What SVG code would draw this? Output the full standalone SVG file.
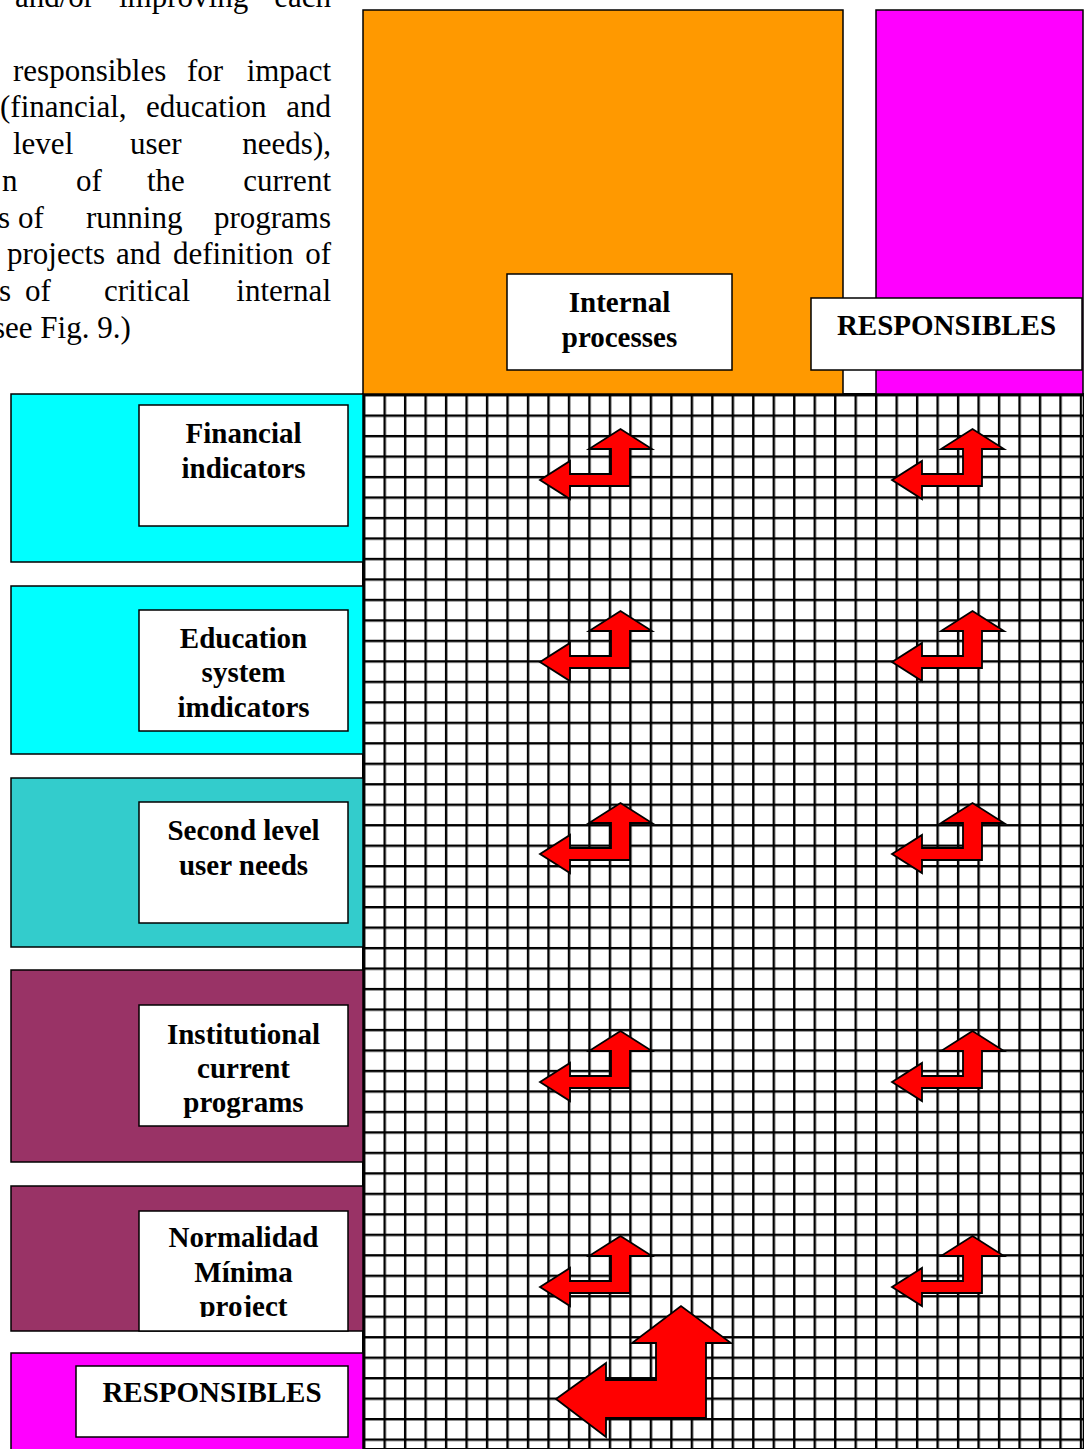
<svg xmlns="http://www.w3.org/2000/svg" xmlns:xlink="http://www.w3.org/1999/xlink" width="1084" height="1449" viewBox="0 0 1084 1449">
  <style>
    .para { font-family: "Liberation Serif", "Times New Roman", serif; font-size: 31px; fill: #000; }
    .lbl { font-family: "Liberation Serif", "Times New Roman", serif; font-size: 29px; font-weight: bold; fill: #000; text-anchor: middle; }
    .box { stroke: #000; stroke-width: 1.5; }
    .inner { fill: #fff; stroke: #000; stroke-width: 1.5; }
    .arrow { fill: #ff0000; stroke: #000; stroke-width: 1.8; stroke-linejoin: miter; }
  </style>
  <defs>
    <pattern id="grid" x="363" y="394" width="20.48" height="20.48" patternUnits="userSpaceOnUse">
      <rect width="20.48" height="20.48" fill="#fff"/>
      <rect x="0" y="0" width="2.4" height="20.48" fill="#000"/>
      <rect x="0" y="0" width="20.48" height="2.4" fill="#000"/>
    </pattern>
    <!-- left-up bent arrow, origin at the left tip -->
    <path id="bent-arrow" d="M0,0 L30,-19 L30,-6 L71,-6 L71,-31 L49,-31 L80.5,-51 L112,-31 L90,-31 L90,6 L30,6 L30,19 Z"/>
    <clipPath id="clip-normalidad">
      <rect x="139" y="1211" width="209" height="106"/>
    </clipPath>
  </defs>

  <rect width="1084" height="1449" fill="#fff"/>

  <!-- justified body text column, partly cut at the left and top edges -->
  <g id="paragraph" class="para">
    <text y="7"><tspan x="15">and/or</tspan><tspan x="119">improving</tspan><tspan x="331" text-anchor="end">each</tspan></text>
    <text y="81"><tspan x="13">responsibles</tspan><tspan x="187">for</tspan><tspan x="331" text-anchor="end">impact</tspan></text>
    <text y="117"><tspan x="0">(financial,</tspan><tspan x="146">education</tspan><tspan x="331" text-anchor="end">and</tspan></text>
    <text y="154"><tspan x="13">level</tspan><tspan x="130">user</tspan><tspan x="331" text-anchor="end">needs),</tspan></text>
    <text y="191"><tspan x="2">n</tspan><tspan x="76">of</tspan><tspan x="147">the</tspan><tspan x="331" text-anchor="end">current</tspan></text>
    <text y="228"><tspan x="10" text-anchor="end">s</tspan><tspan x="18">of</tspan><tspan x="86">running</tspan><tspan x="331" text-anchor="end">programs</tspan></text>
    <text y="264"><tspan x="7">projects</tspan><tspan x="116">and</tspan><tspan x="173">definition</tspan><tspan x="331" text-anchor="end">of</tspan></text>
    <text y="301"><tspan x="11" text-anchor="end">s</tspan><tspan x="25">of</tspan><tspan x="104">critical</tspan><tspan x="331" text-anchor="end">internal</tspan></text>
    <text y="338" x="-7">see Fig. 9.)</text>
  </g>

  <!-- grid field -->
  <rect id="grid-field" x="363" y="394" width="721" height="1055" fill="url(#grid)" stroke="#000" stroke-width="2"/>

  <!-- top headers -->
  <g id="internal-processes">
    <rect class="box" x="363" y="10" width="480" height="384" fill="#ff9900"/>
    <rect class="inner" x="507" y="274" width="225" height="96"/>
    <text class="lbl" x="619.5" y="312">Internal</text>
    <text class="lbl" x="619.5" y="347">processes</text>
  </g>
  <g id="responsibles-top">
    <rect class="box" x="876" y="10" width="207" height="384" fill="#ff00ff"/>
    <rect class="inner" x="811" y="298" width="271" height="72"/>
    <text class="lbl" x="946.5" y="335">RESPONSIBLES</text>
  </g>

  <!-- left side rows -->
  <g id="financial-indicators">
    <rect class="box" x="11" y="394" width="352" height="168" fill="#00ffff"/>
    <rect class="inner" x="139" y="405" width="209" height="121"/>
    <text class="lbl" x="243.5" y="443">Financial</text>
    <text class="lbl" x="243.5" y="478">indicators</text>
  </g>
  <g id="education-indicators">
    <rect class="box" x="11" y="586" width="352" height="168" fill="#00ffff"/>
    <rect class="inner" x="139" y="610" width="209" height="121"/>
    <text class="lbl" x="243.5" y="648">Education</text>
    <text class="lbl" x="243.5" y="682">system</text>
    <text class="lbl" x="243.5" y="717">imdicators</text>
  </g>
  <g id="second-level-needs">
    <rect class="box" x="11" y="778" width="352" height="169" fill="#33cccc"/>
    <rect class="inner" x="139" y="802" width="209" height="121"/>
    <text class="lbl" x="243.5" y="840">Second level</text>
    <text class="lbl" x="243.5" y="875">user needs</text>
  </g>
  <g id="institutional-programs">
    <rect class="box" x="11" y="970" width="352" height="192" fill="#993366"/>
    <rect class="inner" x="139" y="1005" width="209" height="121"/>
    <text class="lbl" x="243.5" y="1044">Institutional</text>
    <text class="lbl" x="243.5" y="1078">current</text>
    <text class="lbl" x="243.5" y="1112">programs</text>
  </g>
  <g id="normalidad-minima">
    <rect class="box" x="11" y="1186" width="352" height="145" fill="#993366"/>
    <rect class="inner" x="139" y="1211" width="209" height="120"/>
    <g clip-path="url(#clip-normalidad)">
      <text class="lbl" x="243.5" y="1247">Normalidad</text>
      <text class="lbl" x="243.5" y="1282">Mínima</text>
      <text class="lbl" x="243.5" y="1316">project</text>
    </g>
  </g>
  <g id="responsibles-bottom">
    <rect class="box" x="11" y="1353" width="352" height="110" fill="#ff00ff"/>
    <rect class="inner" x="76" y="1366" width="272" height="71"/>
    <text class="lbl" x="212" y="1402">RESPONSIBLES</text>
  </g>

  <!-- bent arrows over the grid -->
  <g id="arrows" class="arrow">
    <use xlink:href="#bent-arrow" x="540" y="480"/>
    <use xlink:href="#bent-arrow" x="892" y="480"/>
    <use xlink:href="#bent-arrow" x="540" y="662"/>
    <use xlink:href="#bent-arrow" x="892" y="662"/>
    <use xlink:href="#bent-arrow" x="540" y="854"/>
    <use xlink:href="#bent-arrow" x="892" y="854"/>
    <use xlink:href="#bent-arrow" x="540" y="1082"/>
    <use xlink:href="#bent-arrow" x="892" y="1082"/>
    <use xlink:href="#bent-arrow" x="540" y="1287"/>
    <use xlink:href="#bent-arrow" x="892" y="1287"/>
    <path d="M556,1399 L606,1363 L606,1380 L656,1380 L656,1343 L632,1343 L681,1306 L731,1343 L706,1343 L706,1418 L606,1418 L606,1437 Z"/>
  </g>
</svg>
